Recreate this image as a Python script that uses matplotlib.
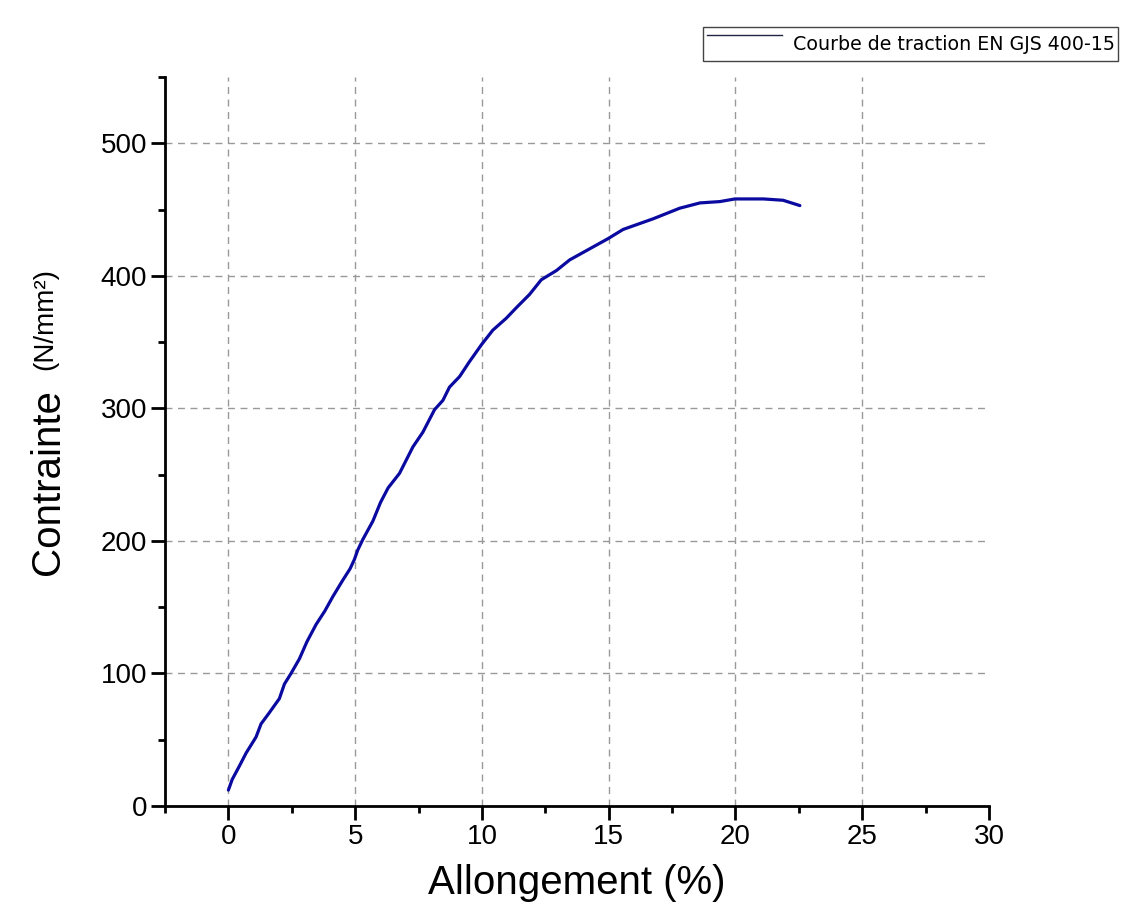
import matplotlib
matplotlib.use("Agg")
import matplotlib.pyplot as plt
from matplotlib.ticker import MultipleLocator
from matplotlib.lines import Line2D
from matplotlib.patches import Rectangle

# Data
allongement = [0, 0.15, 0.43, 0.7, 1.09, 1.29, 1.6, 2.01, 2.21, 2.47, 2.8, 3.1, 3.46, 3.8,
               4.12, 4.5, 4.8, 4.97, 5.1, 5.3, 5.7, 6.0, 6.3, 6.75, 7.28, 7.67, 8.13, 8.46,
               8.72, 9.12, 9.5, 9.98, 10.43, 10.96, 11.36, 11.88, 12.34, 12.94, 13.46, 14.12,
               14.97, 15.57, 16.75, 17.8, 18.6, 19.38, 19.98, 21.1, 21.88, 22.54]
contrainte = [12, 20, 30, 40, 52, 62, 70, 81, 92, 100, 111, 124, 137, 147,
              158, 170, 179, 186, 193, 201, 215, 229, 240, 251, 271, 282, 299, 306,
              316, 324, 335, 348, 359, 368, 376, 386, 397, 404, 412, 419,
              428, 435, 443, 451, 455, 456, 458, 458, 457, 453]
x_ticks = [0, 5, 10, 15, 20, 25, 30]
y_ticks = [0, 100, 200, 300, 400, 500]
legend_label = "Courbe de traction EN GJS 400-15"

W, H = 1131, 922
fig = plt.figure(figsize=(W / 100, H / 100), dpi=100)
ax = fig.add_axes([165 / W, 1 - 806 / H, (989 - 165) / W, (806 - 77) / H])

ax.plot(allongement, contrainte, color="#0a0aa0", lw=2.3, solid_capstyle="round",
        solid_joinstyle="round")

ax.set_xlim(-2.5, 30)
ax.set_ylim(0, 550)
ax.set_xticks(x_ticks)
ax.set_yticks(y_ticks)
ax.xaxis.set_minor_locator(MultipleLocator(2.5))
ax.yaxis.set_minor_locator(MultipleLocator(50))

for s in ["top", "right"]:
    ax.spines[s].set_visible(False)
for s in ["left", "bottom"]:
    ax.spines[s].set_linewidth(2)

ax.tick_params(which="major", direction="out", length=10, width=2, labelsize=20,
               pad=3)
ax.tick_params(which="minor", direction="out", length=5, width=2)
for lab in ax.get_xticklabels() + ax.get_yticklabels():
    lab.set_family("Liberation Sans")

ax.grid(True, which="major", color="#999999", linestyle=(0, (5, 4)), lw=1)
ax.xaxis.get_gridlines()[-1].set_visible(False)
ax.yaxis.get_gridlines()[0].set_visible(False)

fig.text(577 / W, 1 - 883 / H, "Allongement (%)", ha="center", va="center",
         fontsize=29, family="Liberation Sans")
fig.text(48 / W, 1 - 482 / H, "Contrainte", ha="center", va="center", rotation=90,
         fontsize=29, family="Liberation Sans")
fig.text(45 / W, 1 - 319 / H, "(N/mm²)", ha="center", va="center", rotation=90,
         fontsize=20, family="Liberation Sans")

# Legend box
fig.patches.append(Rectangle((703 / W, 1 - 61 / H), (1118 - 703) / W, (61 - 27) / H,
                             transform=fig.transFigure, fill=False,
                             edgecolor="#444444", lw=1))
fig.lines.append(Line2D([707 / W, 782 / W], [1 - 35 / H, 1 - 35 / H],
                        transform=fig.transFigure, color="#222244", lw=1))
fig.text(793 / W, 1 - 45 / H, legend_label, ha="left", va="center", fontsize=13.7,
         family="DejaVu Sans")

fig.savefig("out.png", dpi=100)
